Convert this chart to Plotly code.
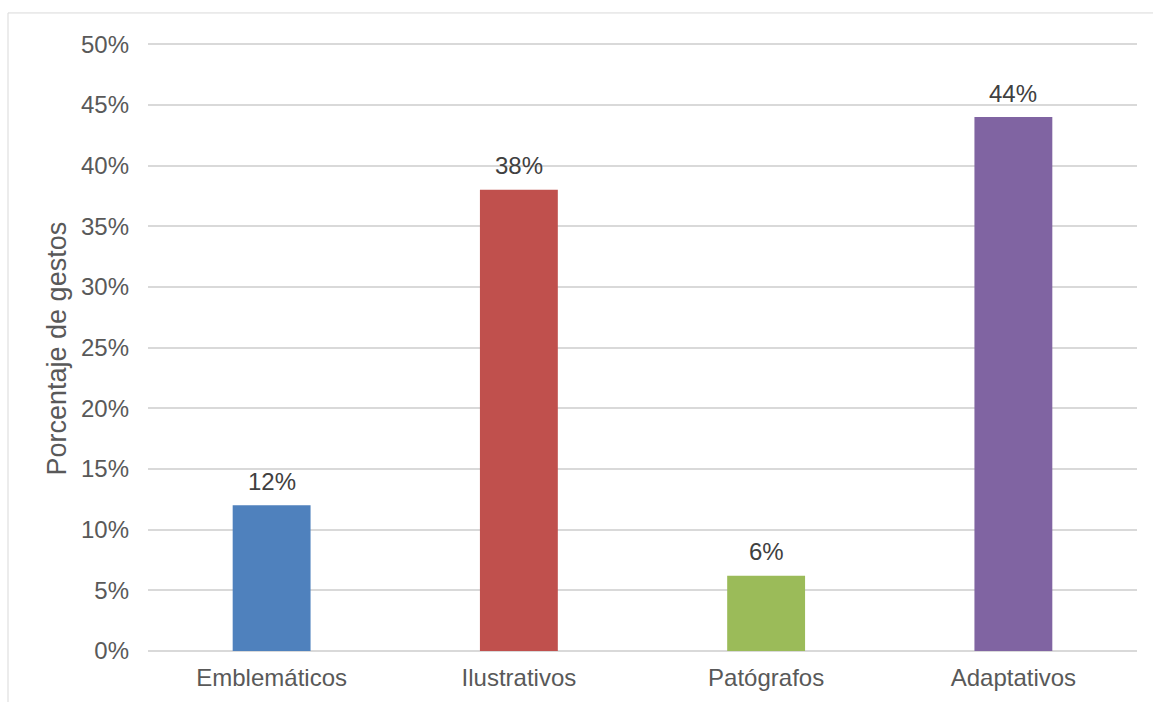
import plotly.graph_objects as go

categories = ["Emblemáticos", "Ilustrativos", "Patógrafos", "Adaptativos"]
values = [12, 38, 6.2, 44]
bar_colors = ["#4F81BD", "#C0504D", "#9BBB59", "#8064A2"]
y_ticks = [0, 5, 10, 15, 20, 25, 30, 35, 40, 45, 50]
y_tick_labels = [f"{t}%" for t in y_ticks]
y_title = "Porcentaje de gestos"

FONT = "Liberation Sans, Arial, sans-serif"

fig = go.Figure()
fig.add_trace(go.Bar(
    x=categories, y=values,
    marker=dict(color=bar_colors, line=dict(width=0)),
    width=0.315,
    hoverinfo="x+y",
))

for c, v in zip(categories, values):
    fig.add_annotation(
        x=c, y=v, text=f"{v:.0f}%", showarrow=False,
        yanchor="middle", yshift=24,
        font=dict(family=FONT, size=24, color="#404040"),
    )

fig.add_annotation(
    xref="paper", yref="paper", x=(57 - 148) / 989, y=(651 - 349) / 607,
    text=y_title, textangle=-90, showarrow=False,
    xanchor="center", yanchor="middle",
    font=dict(family=FONT, size=27, color="#595959"),
)

fig.add_shape(
    type="rect", xref="paper", yref="paper",
    x0=(8 - 148) / 989, x1=1.3, y0=-0.3, y1=(651 - 14) / 607,
    line=dict(color="#d9d9d9", width=1), fillcolor="rgba(0,0,0,0)",
    layer="below",
)

fig.update_layout(
    width=1153, height=702,
    margin=dict(l=148, r=16, t=43, b=51),
    paper_bgcolor="white", plot_bgcolor="white",
    showlegend=False,
    font=dict(family=FONT, size=24, color="#595959"),
    xaxis=dict(
        showgrid=False, showline=False, zeroline=False,
        tickfont=dict(family=FONT, size=24, color="#595959"),
        ticks="", ticklabelstandoff=10,
    ),
    yaxis=dict(
        range=[0, 50.1], tickmode="array", tickvals=y_ticks, ticktext=y_tick_labels,
        showgrid=True, gridcolor="#d9d9d9", gridwidth=1.5,
        zeroline=True, zerolinecolor="#d9d9d9", zerolinewidth=1.5,
        showline=False, ticks="",
        tickfont=dict(family=FONT, size=24, color="#595959"),
        ticklabelstandoff=18,
    ),
)

fig.write_html(
    "out.html",
    config={"displayModeBar": False},
    post_script="document.body.style.margin='0';",
)
